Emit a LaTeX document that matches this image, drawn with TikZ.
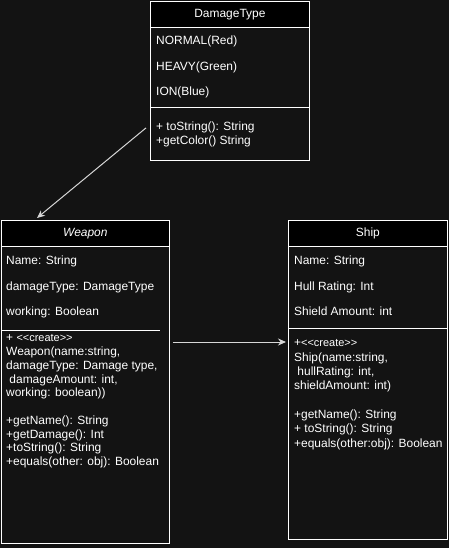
\documentclass[tikz,border=0pt]{standalone}
\usepackage{fontspec}
\setmainfont{Liberation Sans}
\usetikzlibrary{arrows.meta,calc}
\definecolor{canvas}{RGB}{19,19,19}
\definecolor{edgegray}{RGB}{215,215,215}
\tikzstyle{head} = [rectangle, draw=white, fill=black, text=white,
    minimum height=26, inner sep=0pt, anchor=north west, font=\fontsize{12}{14}\selectfont]
\tikzstyle{body} = [rectangle, draw=white, fill=canvas, inner sep=0pt, anchor=north west]
\tikzstyle{member} = [text=white, align=left, anchor=north west, inner sep=0pt,
    font=\fontsize{12}{13.8}\selectfont]
\tikzstyle{field} = [member, font=\fontsize{12}{25.8}\selectfont]
\tikzstyle{sep} = [draw=white, line width=1]
\tikzstyle{line} = [draw=edgegray, line width=1, -{Stealth[length=8, width=7]}]
\newcommand{\stereo}{{\fontsize{11}{12}\selectfont <{}<create>{}>}}

\begin{document}
\begin{tikzpicture}[x=1bp, y=-1bp]
		\fill [canvas] (0,0) rectangle (449,548);
		% DamageType
		\node [body, minimum width=160, minimum height=134] (dtBody) at (150,26) {};
		\node [head, minimum width=160] (dtHead) at (150,1) {DamageType};
		\path [sep] (150,108) -- (310,108);
		\node [field] (dtValues) at (156,35.5) {NORMAL(Red)\\HEAVY(Green)\\ION(Blue)};
		\node [member] (dtMethods) at (156,121.5) {+ toString(): String\\+getColor() String};
		% Weapon
		\node [body, minimum width=169, minimum height=298] (wpBody) at (1,246) {};
		\node [head, minimum width=169] (wpHead) at (1,220) {\itshape Weapon};
		\path [sep] (1,330) -- (160,330);
		\node [field] (wpFields) at (6,255.5) {Name: String\\damageType: DamageType\\working: Boolean};
		\node [member] (wpMethods) at (6,334.5) {+ \stereo\\Weapon(name:string,\\damageType: Damage type,\\
			\hspace*{3.3pt}damageAmount: int,\\working: boolean))\\[13.8pt]
			+getName(): String\\+getDamage(): Int\\+toString(): String\\+equals(other: obj): Boolean};
		% Ship
		\node [body, minimum width=160, minimum height=294] (shBody) at (288,246) {};
		\node [head, minimum width=160] (shHead) at (288,220) {Ship};
		\path [sep] (288,328) -- (448,328);
		\node [field] (shFields) at (294,255.5) {Name: String\\Hull Rating: Int\\Shield Amount: int};
		\node [member, font=\fontsize{12}{14.4}\selectfont] (shMethods) at (294,339.5) {+\stereo\\Ship(name:string,\\
			\hspace*{3.3pt}hullRating: int,\\shieldAmount: int)\\[14.4pt]
			+getName(): String\\+ toString(): String\\+equals(other:obj): Boolean};

		\coordinate (dtOut) at ($(dtBody.south west)+(-4,-32)$);
		\coordinate (wpIn) at ($(wpHead.north west)+(36,-2)$);
		\coordinate (wpOut) at ($(wpBody.north east)+(3,96)$);
		\coordinate (shIn) at ($(shBody.north west)+(-2,96)$);
		\path [line] (dtOut) -- (wpIn);
		\path [line] (wpOut) -- (shIn);
	\end{tikzpicture}
\end{document}
